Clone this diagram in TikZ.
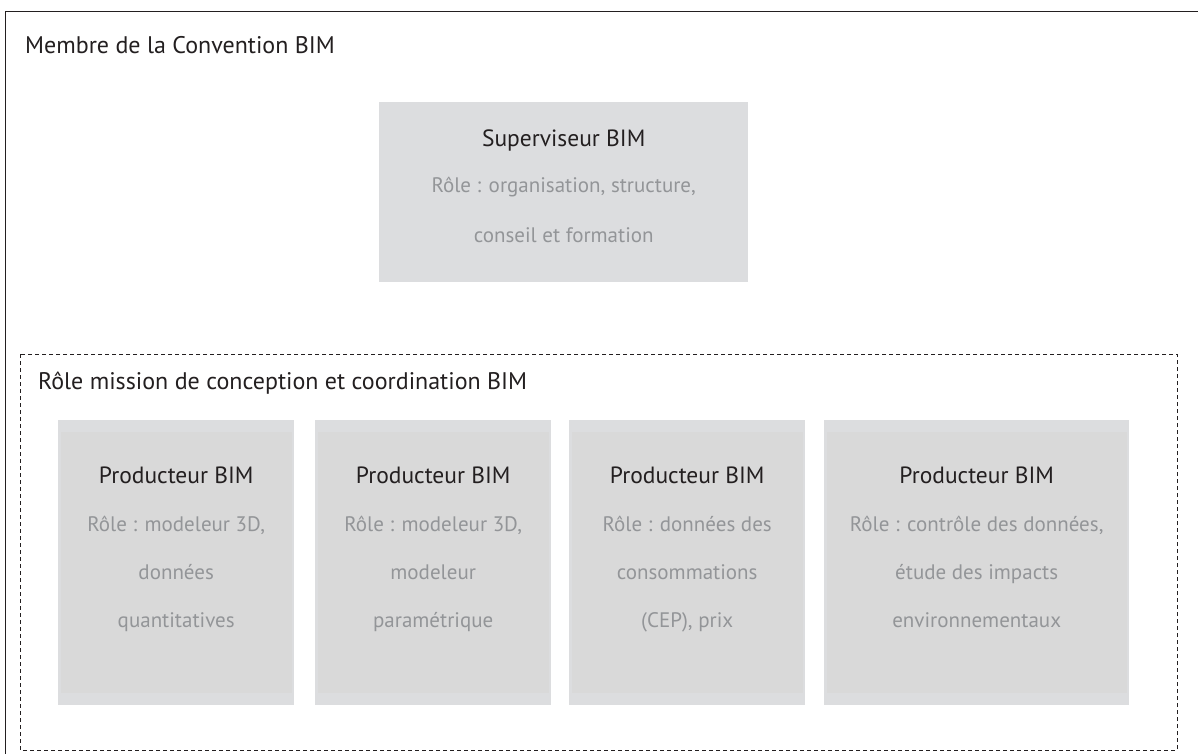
\documentclass[tikz,border=0pt]{standalone}
\usepackage{fontspec}
\setmainfont{PT Sans}
\usetikzlibrary{calc}
\definecolor{boxout}{HTML}{DCDDDF}
\definecolor{boxin}{HTML}{D9D9D9}
\definecolor{ink}{HTML}{231F20}
\definecolor{rolec}{HTML}{939598}
\tikzset{
  frameline/.style={draw=ink, line width=1pt},
  dashframe/.style={draw=ink, line width=0.8pt, dash pattern=on 4pt off 3pt},
  heading/.style={anchor=base west, inner sep=0pt, text=ink, font=\fontsize{24}{28}\selectfont},
  title/.style={anchor=base, inner sep=0pt, text=ink, font=\fontsize{23.5}{27}\selectfont},
  roletext/.style={anchor=base, inner sep=0pt, text=rolec, font=\fontsize{21}{25}\selectfont},
  outerbox/.style={fill=boxout, draw=none, inner sep=0pt, anchor=north west},
  innerbox/.style={fill=boxin, draw=none},
}
\begin{document}
\begin{tikzpicture}[x=1pt,y=-1pt]
\useasboundingbox (0,0) rectangle (1198,754);
\fill[white] (0,0) rectangle (1198,754);
\clip (0,0) rectangle (1198,754);
% outer solid frame (runs off the right and bottom edges)
\draw[frameline] (1205,12) -- (5,12) -- (5,760);
\node[heading] (membre) at (25,54) {Membre de la Convention BIM};

% Superviseur
\node[outerbox, minimum width=369pt, minimum height=180pt] (sup) at (379,102) {};
\node[title] (supt) at ($(sup.north)+(0,45)$) {Superviseur BIM};
\node[roletext] (supr1) at ($(sup.north)+(0,91)$) {Rôle : organisation, structure,};
\node[roletext] (supr2) at ($(sup.north)+(0,140)$) {conseil et formation};

% dashed group
\draw[dashframe] (20,354) rectangle (1177,750);
\node[heading] (mission) at (38,389) {Rôle mission de conception et coordination BIM};

% producer boxes
\foreach \n/\x/\w in {p1/58/236, p2/315/236, p3/569/236, p4/824/305}{
  \node[outerbox, minimum width=\w pt, minimum height=285pt] (\n) at (\x,420) {};
  \fill[innerbox] ($(\n.north west)+(3,12)$) rectangle ($(\n.south east)+(-2,-12)$);
  \node[title] (\n t) at ($(\n.north)+(0,63)$) {Producteur BIM};
}
\node[roletext] (p1a) at ($(p1.north)+(0,111)$) {Rôle : modeleur 3D,};
\node[roletext] (p1b) at ($(p1.north)+(0,159)$) {données};
\node[roletext] (p1c) at ($(p1.north)+(0,207)$) {quantitatives};
\node[roletext] (p2a) at ($(p2.north)+(0,111)$) {Rôle : modeleur 3D,};
\node[roletext] (p2b) at ($(p2.north)+(0,159)$) {modeleur};
\node[roletext] (p2c) at ($(p2.north)+(0,207)$) {paramétrique};
\node[roletext] (p3a) at ($(p3.north)+(0,111)$) {Rôle : données des};
\node[roletext] (p3b) at ($(p3.north)+(0,159)$) {consommations};
\node[roletext] (p3c) at ($(p3.north)+(0,207)$) {(CEP), prix};
\node[roletext] (p4a) at ($(p4.north)+(0,111)$) {Rôle : contrôle des données,};
\node[roletext] (p4b) at ($(p4.north)+(0,159)$) {étude des impacts};
\node[roletext] (p4c) at ($(p4.north)+(0,207)$) {environnementaux};
\end{tikzpicture}
\end{document}
